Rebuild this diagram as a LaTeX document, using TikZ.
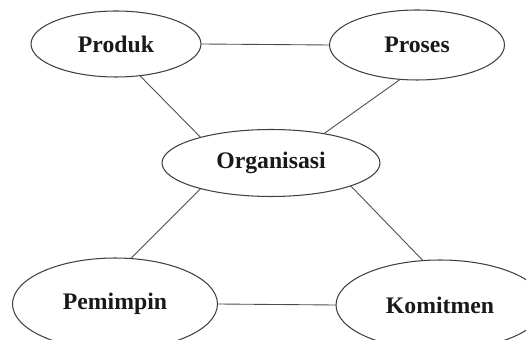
\documentclass[tikz,border=0pt]{standalone}
\usepackage{fontspec}
\setmainfont{Liberation Serif}
\usetikzlibrary{shapes.geometric}
\tikzstyle{concept}=[
  draw=black!75,
  ellipse,
  font={\fontsize{13.5}{16}\selectfont\bfseries},
  inner sep=0pt,
  outer sep=0pt,
  line width=.6pt,
  text=black!90,
]
\tikzstyle{link}=[
  draw=black!70,
  line width=.5pt,
]
\begin{document}
\begin{tikzpicture}[x=.02cm,y=-.02cm]
  \useasboundingbox (0,0) rectangle (526,340);
  \clip (0,0) rectangle (526,340);
  \node (produk) [concept, minimum width=3.4cm, minimum height=1.32cm] at (116,44) {Produk};
  \node (proses) [concept, minimum width=3.5cm, minimum height=1.4cm] at (417,45) {Proses};
  %%
  \node (organisasi) [concept, minimum width=4.36cm, minimum height=1.34cm] at (271,163) {Organisasi};
  %%
  \node (pemimpin) [concept, minimum width=4.1cm, minimum height=1.84cm] at (115,304) {Pemimpin};
  \node (komitmen) [concept, minimum width=4.16cm, minimum height=1.8cm] at (440,305) {Komitmen};
  %%
  \draw [link] (produk.east) -- (proses.west);
  \draw [link] (produk.-53) -- (organisasi.160);
  \draw [link] (proses.-116) -- (organisasi.29);
  \draw [link] (organisasi.200) -- (pemimpin.71);
  \draw [link] (organisasi.-16) -- (komitmen.111);
  \draw [link] (pemimpin.east) -- (komitmen.west);
\end{tikzpicture}
\end{document}
